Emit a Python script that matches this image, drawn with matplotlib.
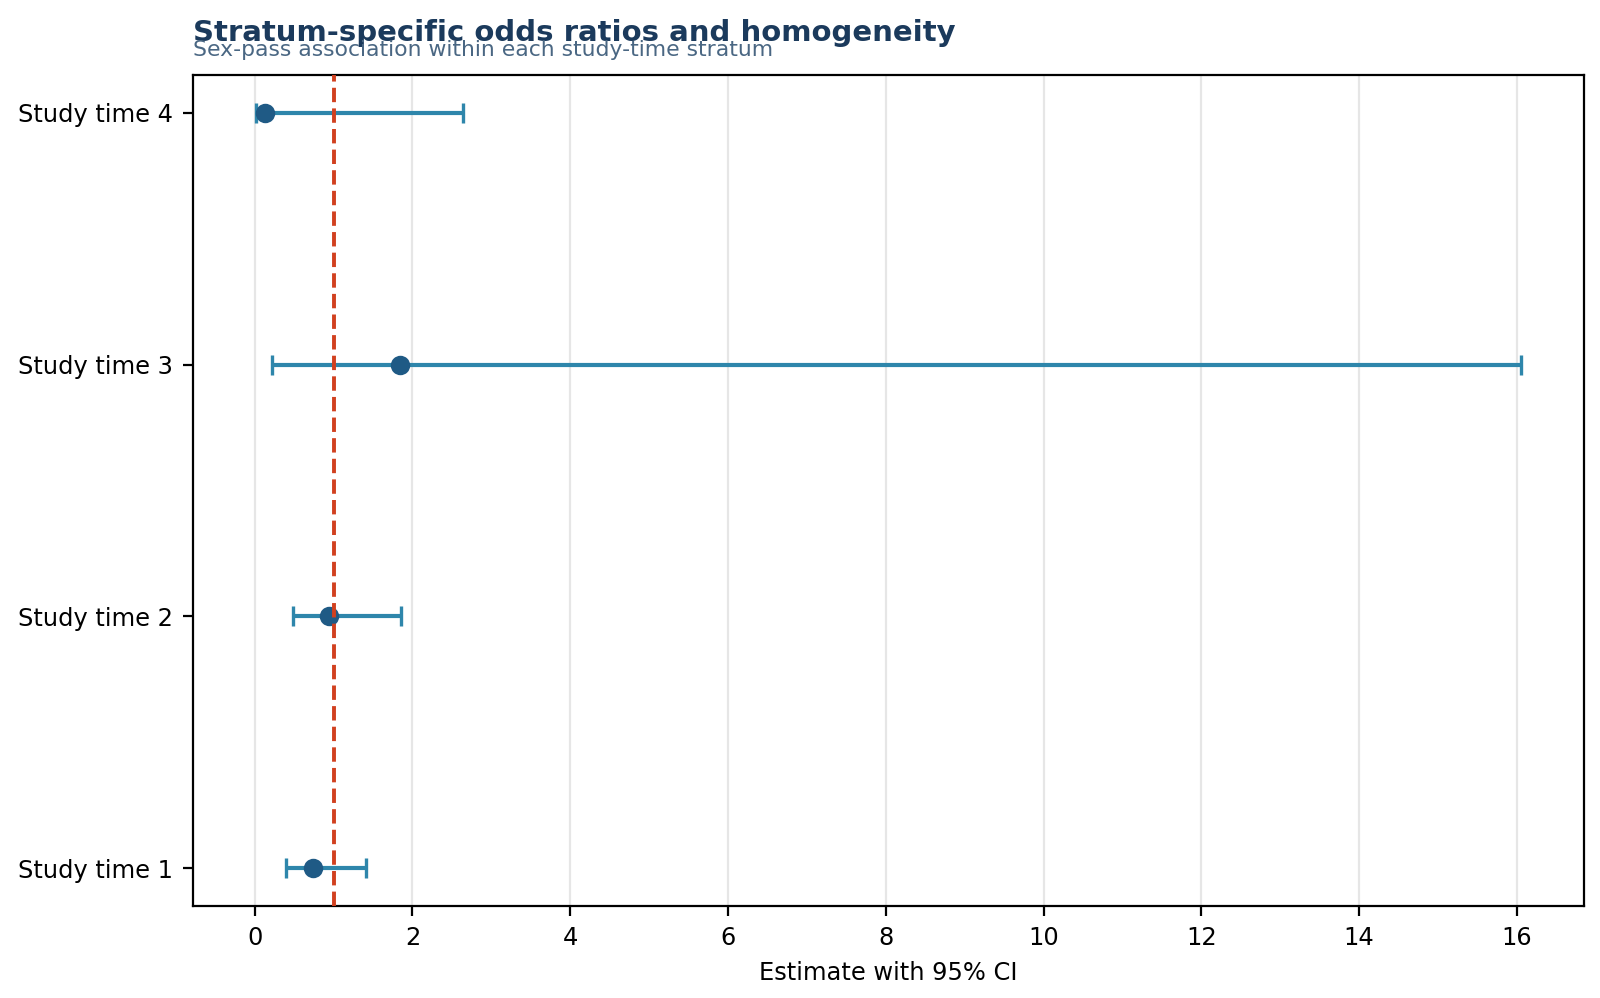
import matplotlib
matplotlib.use("Agg")
import matplotlib.pyplot as plt
import numpy as np

categories = ["Study time 1", "Study time 2", "Study time 3", "Study time 4"]
estimates = [0.74, 0.94, 1.84, 0.13]
ci_low = [0.40, 0.485, 0.22, 0.017]
ci_high = [1.41, 1.85, 16.05, 2.64]

plt.rcParams["font.size"] = 8.7

fig = plt.figure(figsize=(8, 4.99), dpi=200)
ax = fig.add_axes([0.1205, 0.092, 0.8695, 0.833])

y = np.arange(len(categories))
est = np.array(estimates)
lo = est - np.array(ci_low)
hi = np.array(ci_high) - est

ax.errorbar(est, y, xerr=[lo, hi], fmt="none", ecolor="#2e86ab",
            elinewidth=1.5, capsize=3.5, capthick=1.2, zorder=2)
ax.plot(est, y, "o", color="#1f5a85", markersize=6, zorder=3)
ax.axvline(1.0, color="#d1401f", linestyle="--", linewidth=1.4, zorder=4)

ax.set_yticks(y)
ax.set_yticklabels(categories, fontsize=8.7)
ax.set_xticks(np.arange(0, 17, 2))
ax.tick_params(labelsize=8.7)
ax.grid(axis="x", color="#e6e6e6", linewidth=0.8)
ax.set_axisbelow(True)
ax.set_xlabel("Estimate with 95% CI", fontsize=8.7)

fig.text(0.1205, 0.959, "Stratum-specific odds ratios and homogeneity",
         fontsize=10.5, fontweight="bold", color="#1b3a5c", ha="left", va="baseline")
fig.text(0.1205, 0.944, "Sex-pass association within each study-time stratum",
         fontsize=7.9, color="#4a6783", ha="left", va="baseline")

fig.savefig("out.png", dpi=200)
